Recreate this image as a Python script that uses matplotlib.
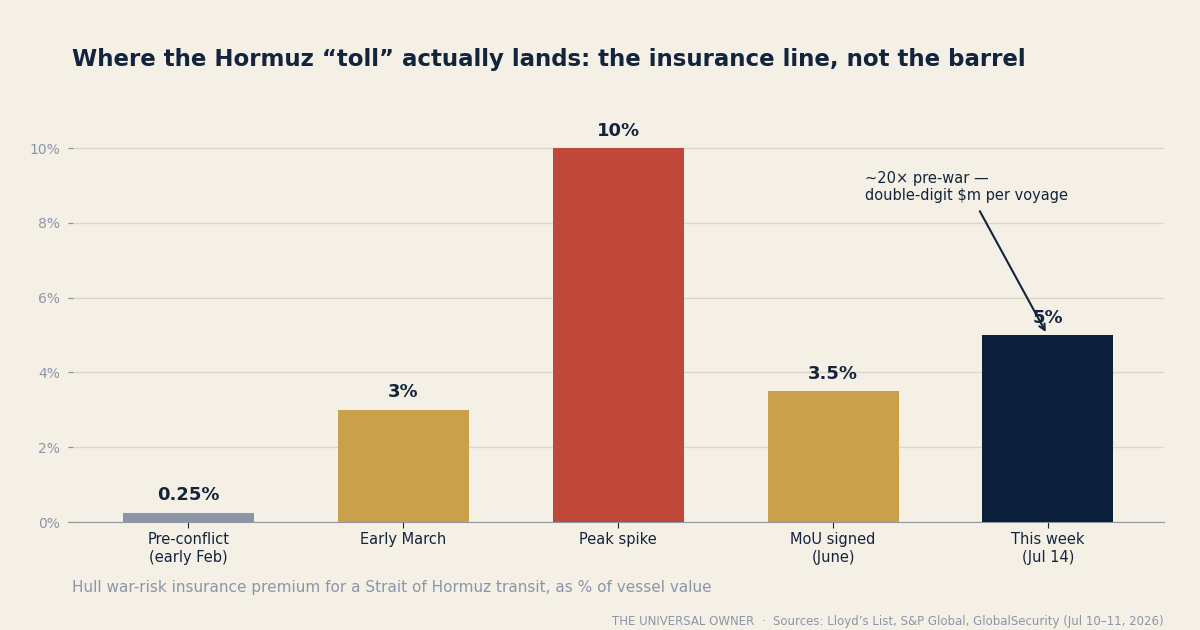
import matplotlib
matplotlib.use("Agg")
import matplotlib.pyplot as plt
from matplotlib.ticker import FuncFormatter

categories = ["Pre-conflict\n(early Feb)", "Early March", "Peak spike", "MoU signed\n(June)", "This week\n(Jul 14)"]
values = [0.25, 3.0, 10.0, 3.5, 5.0]
labels = ["0.25%", "3%", "10%", "3.5%", "5%"]
colors = ["#8a96a8", "#c9a14a", "#c0483b", "#c9a14a", "#0b1f3a"]
yticks = [0, 2, 4, 6, 8, 10]

BG = "#f5f0e6"
NAVY = "#13243d"
GRAY = "#8a96a8"

plt.rcParams['font.family'] = ['DejaVu Sans']
fig = plt.figure(figsize=(12, 6.3), dpi=100, facecolor=BG)
ax = fig.add_axes([0.0567, 0.1714, 0.9133, 0.653], facecolor=BG)

x = list(range(len(categories)))
bars = ax.bar(x, values, width=0.61, color=colors, zorder=3)
for xi, v, lab in zip(x, values, labels):
    ax.annotate(lab, (xi, v), xytext=(0, 6), textcoords="offset points",
                ha="center", va="bottom", fontsize=13, fontweight="bold", color=NAVY, zorder=4)

ax.set_ylim(0, 11)
ax.set_xlim(-0.56, 4.54)
ax.set_yticks(yticks)
ax.yaxis.set_major_formatter(FuncFormatter(lambda v, p: f"{v:g}%"))
ax.set_xticks(x)
ax.set_xticklabels(categories, fontsize=10.5, color=NAVY)
ax.tick_params(axis="y", colors=GRAY, labelsize=10, length=3.5, direction="in", pad=6)
ax.tick_params(axis="x", colors=NAVY, length=4)
ax.grid(axis="y", color="#ddd6c6", linewidth=1, zorder=0)
for s in ["left", "top", "right"]:
    ax.spines[s].set_visible(False)
ax.spines["bottom"].set_color("#8f969c")

ax.annotate("~20× pre-war —\ndouble-digit $m per voyage", xy=(3.99, 5.08), xytext=(3.15, 8.95),
            fontsize=10.5, color=NAVY, ha="left", va="center",
            arrowprops=dict(arrowstyle="->", color=NAVY, lw=1.5, shrinkA=4, shrinkB=0), zorder=5)

fig.text(0.06, 0.906, "Where the Hormuz \u201ctoll\u201d actually lands: the insurance line, not the barrel",
         fontsize=16.5, fontweight="bold", color=NAVY, ha="left", va="center")
fig.text(0.06, 0.068, "Hull war-risk insurance premium for a Strait of Hormuz transit, as % of vessel value",
         fontsize=11, color=GRAY, ha="left", va="center")
fig.text(0.97, 0.014, "THE UNIVERSAL OWNER  \u00b7  Sources: Lloyd\u2019s List, S&P Global, GlobalSecurity (Jul 10\u201311, 2026)",
         fontsize=8.5, color=GRAY, ha="right", va="center")

fig.savefig("out.png", dpi=100, facecolor=BG)
